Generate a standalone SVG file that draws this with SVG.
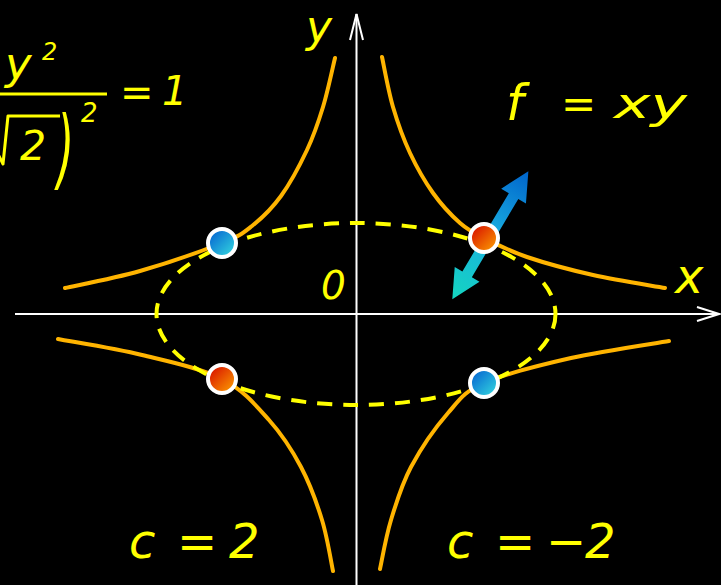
<svg xmlns="http://www.w3.org/2000/svg" width="721" height="585" viewBox="0 0 721 585">
<defs>
<style>
.txt{font-family:"DejaVu Sans","Liberation Sans",sans-serif;font-style:italic;fill:#ffff00}
.axis{stroke:#ffffff;stroke-width:2;fill:none}
.hyp{stroke:#ffb400;stroke-width:4;fill:none;stroke-linecap:round}
.dot{stroke:#ffffff;stroke-width:4}
.rule{stroke:#ffff00;stroke-width:3;fill:none}
</style>
<linearGradient id="gRed" x1="0" y1="0" x2="1" y2="1">
<stop offset="0" stop-color="#d40000"/>
<stop offset="1" stop-color="#ffa800"/>
</linearGradient>
<linearGradient id="gBlue" x1="0" y1="0" x2="1" y2="1">
<stop offset="0" stop-color="#0058d0"/>
<stop offset="1" stop-color="#38e0e0"/>
</linearGradient>
<linearGradient id="gArrow" gradientUnits="userSpaceOnUse" x1="0" y1="0" x2="149" y2="0">
<stop offset="0" stop-color="#14d6c0"/>
<stop offset="0.5" stop-color="#1ab0e0"/>
<stop offset="1" stop-color="#0064cc"/>
</linearGradient>
</defs>
<rect x="0" y="0" width="721" height="585" fill="#000000"/>

<g id="axes">
<line class="axis" x1="15" y1="314" x2="719" y2="314"/>
<polyline class="axis" points="697,307 719,314 697,321"/>
<line class="axis" x1="356.5" y1="585" x2="356.5" y2="14"/>
<polyline class="axis" points="350,40 356.5,14 363,40"/>
</g>

<g id="connectors">
<path id="branch-ul" class="hyp" d="M65,288 C77.5,285.2 113.8,278.5 140,271 C166.2,263.5 203.3,250.5 222,243 C240.7,235.5 242.2,233.8 252,226 C261.8,218.2 271.8,208.7 281,196 C290.2,183.3 300,164.8 307,150 C314,135.2 318.3,122.3 323,107 C327.7,91.7 333,66.2 335,58"/>
<path id="branch-ur" class="hyp" d="M665,288 C653,285.8 616,280.2 593,275 C570,269.8 545.2,263.2 527,257 C508.8,250.8 495.2,243.7 484,238 C472.8,232.3 468.5,230.5 460,223 C451.5,215.5 441.3,204.7 433,193 C424.7,181.3 416.7,167.3 410,153 C403.3,138.7 397.7,123 393,107 C388.3,91 383.8,65.3 382,57"/>
<path id="branch-ll" class="hyp" d="M58,339 C72,341.7 114.7,348.3 142,355 C169.3,361.7 200.8,368.2 222,379 C243.2,389.8 255.8,405.3 269,420 C282.2,434.7 292.2,450.3 301,467 C309.8,483.7 316.7,502.7 322,520 C327.3,537.3 331.2,562.5 333,571"/>
<path id="branch-lr" class="hyp" d="M669,341 C652.7,343.8 601.8,351 571,358 C540.2,365 504.5,373.8 484,383 C463.5,392.2 460.2,399 448,413 C435.8,427 420.5,449.2 411,467 C401.5,484.8 396.2,503 391,520 C385.8,537 381.8,560.8 380,569"/>
<ellipse id="constraint" cx="356" cy="314" rx="199.5" ry="91" fill="none" stroke="#ffff00" stroke-width="4" stroke-dasharray="15 11"/>
<g id="gradient-arrow" transform="translate(452.3,299.3) rotate(-59.3)">
<polygon points="0,0 29,-14.4 29,-5.5 120,-5.5 120,-14.4 149,0 120,14.4 120,5.5 29,5.5 29,14.4" fill="url(#gArrow)"/>
</g>
</g>

<g id="dot-ul"><circle class="dot" cx="222" cy="243" r="14" fill="url(#gBlue)"/></g>
<g id="dot-ur"><circle class="dot" cx="484" cy="238" r="14" fill="url(#gRed)"/></g>
<g id="dot-ll"><circle class="dot" cx="222" cy="379" r="14" fill="url(#gRed)"/></g>
<g id="dot-lr"><circle class="dot" cx="484" cy="383" r="14" fill="url(#gBlue)"/></g>

<g id="label-y"><text class="txt" x="306" y="42" font-size="44">y</text></g>
<g id="label-x"><text class="txt" x="675" y="293" font-size="48">x</text></g>
<g id="label-0"><text class="txt" x="321" y="299" font-size="39">0</text></g>

<g id="label-f">
<text class="txt" x="506" y="120" font-size="50">f</text>
<text class="txt" x="561" y="118" font-size="42">=</text>
<text class="txt" x="614" y="118" font-size="42" textLength="73" lengthAdjust="spacingAndGlyphs">xy</text>
</g>

<g id="label-c2">
<text class="txt" y="558" font-size="48"><tspan x="129">c</tspan><tspan x="177">=</tspan><tspan x="229">2</tspan></text>
</g>
<g id="label-cm2">
<text class="txt" y="558" font-size="48"><tspan x="447">c</tspan><tspan x="495">=</tspan><tspan x="546">−</tspan><tspan x="585">2</tspan></text>
</g>

<g id="formula">
<text class="txt" x="5" y="79" font-size="45">y</text>
<text class="txt" x="42" y="60" font-size="24">2</text>
<line class="rule" x1="0" y1="94" x2="107" y2="94"/>
<text class="txt" x="120" y="106" font-size="40">=</text>
<text class="txt" x="162" y="105" font-size="40">1</text>
<polyline class="rule" points="-4,150 3,164 8,116 60,116" stroke-linejoin="round"/>
<text class="txt" x="20" y="160" font-size="41">2</text>
<text class="txt" transform="translate(57,178) scale(1,2)" x="0" y="0" font-size="44">)</text>
<text class="txt" x="81" y="122" font-size="26">2</text>
</g>
</svg>
